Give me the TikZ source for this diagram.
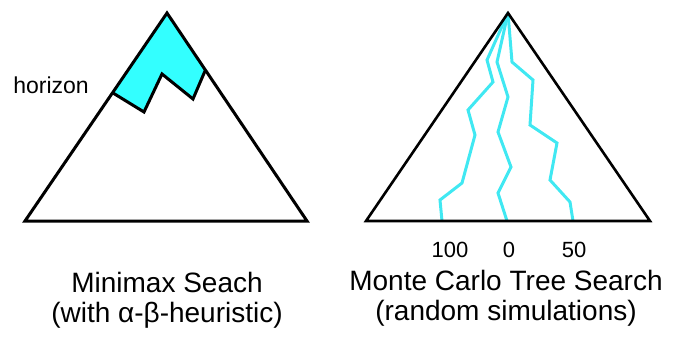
\documentclass[tikz,border=0pt]{standalone}
\usepackage{fontspec}
\setmainfont{Liberation Sans}
\definecolor{horizoncyan}{RGB}{51,255,255}
\definecolor{simcyan}{RGB}{64,232,242}
\begin{document}
\begin{tikzpicture}[x=1pt,y=-1pt,line join=miter,
		tree/.style={draw=black,line width=3pt},
		sim/.style={draw=simcyan,line width=3pt},
		title/.style={font=\fontsize{28}{30}\selectfont,align=center,inner sep=0pt},
		score/.style={font=\fontsize{22}{24}\selectfont,inner sep=0pt}]
	\useasboundingbox (0,0) rectangle (675,337);
	
	% minimax tree
	\coordinate (m0) at (167,13);
	\coordinate (m1) at (25,221);
	\coordinate (m2) at (307,221);
	
	\coordinate (h1) at (113,93);
	\coordinate (h2) at (144,112);
	\coordinate (h3) at (162,74);
	\coordinate (h4) at (193,99);
	\coordinate (h5) at (205,71);
	
	\fill[horizoncyan] (m0)--(h5)--(h4)--(h3)--(h2)--(h1)--cycle;
	\draw[tree] (m0)--(m2)--(m1)--cycle;
	\draw[tree] (h1)--(h2)--(h3)--(h4)--(h5);
	
	\node[font=\fontsize{23}{25}\selectfont,inner sep=0pt] (hz) at (51,85) {horizon};
	\node[title] (tm) at (167,300) {Minimax Seach\\(with α-β-heuristic)};
	
	% monte carlo tree
	\coordinate (r0) at (508,13);
	\coordinate (r1) at (366,221);
	\coordinate (r2) at (650,221);
	
	\draw[sim] (r0)--(487,60)--(493,82)--(468,110)--(475,135)--(462,183)--(440,200)--(442,221);
	\draw[sim] (r0)--(497,62)--(508,97)--(498,132)--(511,167)--(498,193)--(507,221);
	\draw[sim] (r0)--(512,62)--(533,80)--(530,125)--(557,143)--(550,180)--(570,202)--(573,221);
	\draw[tree,line width=2.6pt] (r0)--(r2)--(r1)--cycle;
	
	\node[score] (s1) at (450,250) {100};
	\node[score] (s2) at (509,250) {0};
	\node[score] (s3) at (574,250) {50};
	\node[title] (tr) at (506,298) {Monte Carlo Tree Search\\(random simulations)};
\end{tikzpicture}
\end{document}
